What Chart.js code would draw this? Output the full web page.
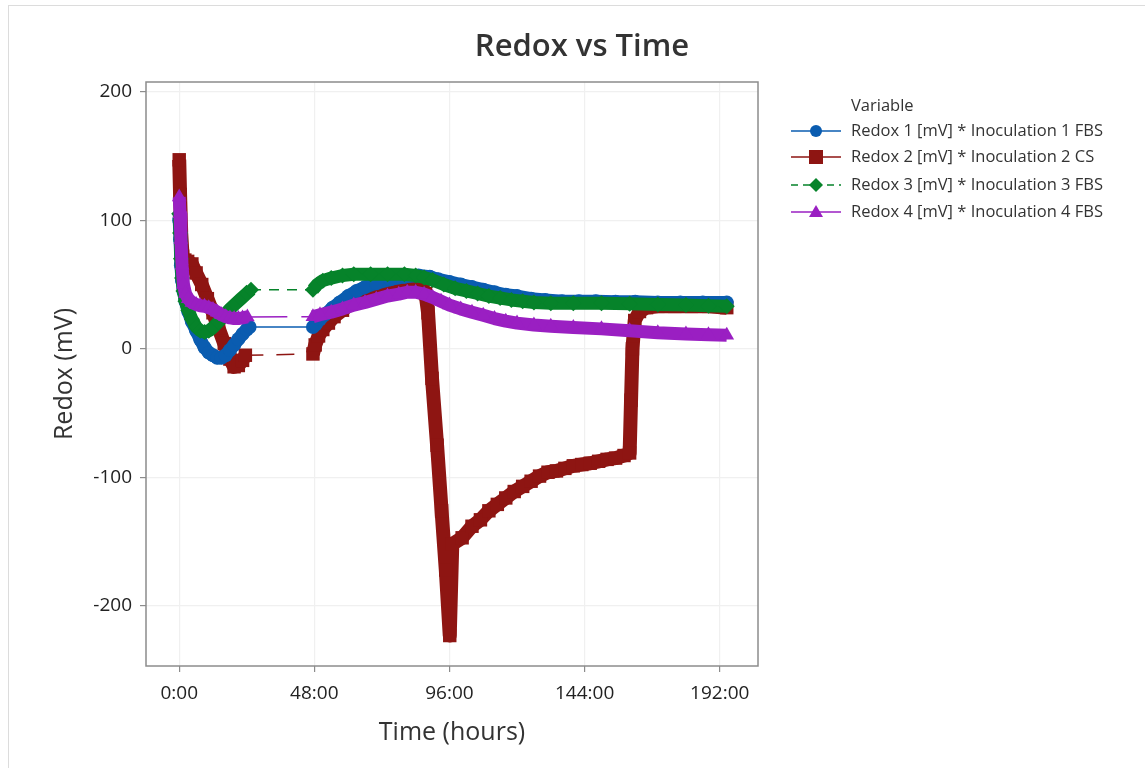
<!DOCTYPE html>
<html lang="en">
<head>
<meta charset="UTF-8">
<title>Redox vs Time</title>
<style>
    body { margin: 0; background: #fff; overflow: hidden; }
    .frame { position: absolute; left: 8px; top: 5px; width: 1200px; height: 800px; border: 1px solid #dcdcdc; }
    .chart-box { position: absolute; left: 0; top: 0; width: 1145px; height: 768px; }
</style>
</head>
<body>
<div class="frame"></div>
<div class="chart-box"><canvas id="redoxChart" width="1145" height="768"></canvas></div>
<script src="https://cdn.jsdelivr.net/npm/chart.js"></script>
<script>
    const chartTitle = 'Redox vs Time';
    const legendTitle = 'Variable';
    const seriesLabels = [
        'Redox 1 [mV] * Inoculation 1 FBS',
        'Redox 2 [mV] * Inoculation 2 CS',
        'Redox 3 [mV] * Inoculation 3 FBS',
        'Redox 4 [mV] * Inoculation 4 FBS'
    ];
    const xTickValues = [0, 48, 96, 144, 192];
    const yTickValues = [-200, -100, 0, 100, 200];

    // time in hours, redox in mV
    const redox1Hours = [0, 0.3, 0.6, 1, 1.5, 2.2, 3.2, 4.5, 6, 7.5, 9, 10.5, 12, 13.5, 15, 16.5, 18, 19.5, 21, 22.5, 24, 25,
        47.5, 48.5, 50, 52, 54.5, 57, 60, 63, 66, 70, 75, 80, 85, 89, 92, 96, 100, 104, 108, 112, 116, 120, 125, 130, 136, 142, 148, 155, 162, 170, 178, 186, 194.5];
    const redox1Values = [100, 85, 65, 53, 45, 37, 29, 21, 14, 7, 1, -3, -5, -7, -7, -5, -1, 3, 7.5, 11.5, 15, 17,
        17, 19, 23, 27, 32, 36, 41, 45, 48, 51, 54, 56, 57, 56, 54, 52, 50, 48, 46, 44, 42, 41, 39, 38, 37, 37, 37, 36.5, 36.5, 36, 36, 36, 36];

    const redox2Hours = [0, 0.3, 0.7, 1.2, 2, 3, 4.5, 6, 8, 10, 12, 14, 16, 18, 19.5, 21, 22.5, 23.5,
        47.5, 48.3, 49.5, 51, 53, 55, 58, 61, 64, 67, 70, 74, 78, 82, 85, 86.5, 87.5, 88.4, 89.8, 91.6, 93.2, 94.7, 96.1, 97, 100.5,
        104, 107, 110, 113, 116, 119, 122, 125, 128, 131, 134, 137, 140, 143, 146, 149, 152, 155, 158, 160,
        160.5, 161, 161.8, 163.5, 166, 170, 176, 182, 188, 194.5];
    const redox2Values = [147, 120, 90, 72, 69, 68, 66, 59, 50, 39, 28, 16, 4, -8, -14, -13, -9, -5,
        -4, 3, 10, 15, 20, 25, 30, 35, 39, 42, 45, 48, 50, 50, 49, 47, 43, 28, -23, -75, -126, -172, -223, -152, -147,
        -138, -133, -126, -121, -116, -111, -107, -103, -99, -96, -95, -93, -91, -90, -89, -87.5, -86, -85, -83, -81,
        -40, 0, 22, 29, 32, 33, 33, 33, 33, 32];

    const redox3Hours = [0, 0.3, 0.6, 1, 1.5, 2.2, 3.2, 4.5, 6, 7.5, 9, 10.5, 12, 14, 16, 18, 20, 22, 24, 25.5,
        47.5, 49, 51, 54, 58, 62, 68, 74, 80, 84, 87, 90, 94, 98, 102, 106, 110, 114, 118, 122, 126, 132, 140, 150, 160, 170, 180, 188, 194.5];
    const redox3Values = [105, 90, 70, 55, 45, 37, 30, 23, 17, 14, 13, 14, 16.5, 21, 26, 31, 35, 39, 43, 46,
        46, 50, 53, 55, 57, 58, 58, 58, 58, 57, 55.5, 53.5, 50, 47, 45, 43, 41, 39.5, 38, 37, 36, 35.5, 35.5, 35.5, 35, 34.5, 34, 33.5, 33];

    const redox4Hours = [0, 0.3, 0.6, 1, 1.5, 2.2, 3.2, 4.5, 6, 7.5, 9, 10.5, 12, 13.5, 15, 16.5, 18, 19.5, 21, 22.5, 24.2,
        47.5, 50, 54, 58, 62, 66, 70, 74, 78, 81, 84, 87, 90, 93, 96, 100, 104, 108, 112, 116, 120, 126, 132, 140, 150, 160, 170, 180, 188, 194.5];
    const redox4Values = [118, 105, 85, 65, 50, 43, 39, 36, 34.5, 33.5, 33, 32, 30.5, 28.5, 26.5, 25, 24, 23.5, 23.5, 24, 24.8,
        25, 26.5, 28.5, 31, 34, 36, 38.5, 41, 42.5, 44, 44, 42.5, 40, 37, 34, 31, 28.5, 26, 23.5, 21.5, 20, 18.5, 17.5, 16.5, 15.5, 14, 12.5, 11.5, 11, 10.5];

    const seriesColors = ['#0a5cb0', '#8e1512', '#06832a', '#9a1fc2'];
    const seriesMarkers = ['circle', 'rect', 'rectRot', 'triangle'];
    const markerRadius = [7, 9.5, 8, 8.5];
    const lineWidths = [13, 14, 13, 13];
    const gapDashes = [[], [18, 13], [10, 8], [40, 14]];

    const toPoints = (hours, values) => hours.map((h, i) => ({ x: h, y: values[i] }));
    const isGap = ctx => ctx.p1.parsed.x - ctx.p0.parsed.x > 10;

    function makeDataset(i, hours, values, order) {
        return {
            label: seriesLabels[i],
            data: toPoints(hours, values),
            borderColor: seriesColors[i],
            backgroundColor: seriesColors[i],
            borderWidth: lineWidths[i],
            borderJoinStyle: 'round',
            pointStyle: seriesMarkers[i],
            pointRadius: markerRadius[i],
            pointBorderWidth: 0,
            pointBackgroundColor: seriesColors[i],
            tension: 0,
            order: order,
            segment: {
                borderWidth: ctx => isGap(ctx) ? 1.5 : undefined,
                borderDash: ctx => isGap(ctx) ? gapDashes[i] : undefined
            }
        };
    }

    function drawMarker(ctx, style, x, y, r) {
        ctx.beginPath();
        if (style === 'circle') {
            ctx.arc(x, y, r, 0, Math.PI * 2);
        } else if (style === 'rect') {
            ctx.rect(x - r, y - r, 2 * r, 2 * r);
        } else if (style === 'rectRot') {
            ctx.moveTo(x, y - r); ctx.lineTo(x + r, y); ctx.lineTo(x, y + r); ctx.lineTo(x - r, y);
        } else {
            ctx.moveTo(x, y - r); ctx.lineTo(x + r, y + r * 0.7); ctx.lineTo(x - r, y + r * 0.7);
        }
        ctx.closePath();
        ctx.fill();
    }

    const decorations = {
        id: 'decorations',
        afterDraw(chart) {
            const { ctx, chartArea: a } = chart;
            ctx.save();
            ctx.strokeStyle = '#8c8c8c';
            ctx.lineWidth = 1.5;
            ctx.strokeRect(a.left, a.top, a.right - a.left, a.bottom - a.top);

            ctx.fillStyle = '#333';
            ctx.font = '600 31px "Open Sans"';
            ctx.textAlign = 'center';
            ctx.textBaseline = 'middle';
            ctx.fillText(chartTitle, 582, 47);

            // legend
            ctx.font = '16.5px "Open Sans"';
            ctx.textAlign = 'left';
            ctx.fillStyle = '#333';
            ctx.fillText(legendTitle, 851, 106);
            const rows = [131, 157, 185, 212];
            const legendSizes = [6, 7, 7, 7];
            seriesLabels.forEach((label, i) => {
                const y = rows[i];
                ctx.strokeStyle = seriesColors[i];
                ctx.lineWidth = 1.5;
                ctx.setLineDash(i === 2 ? [7, 5] : []);
                ctx.beginPath();
                ctx.moveTo(791, y); ctx.lineTo(841, y);
                ctx.stroke();
                ctx.setLineDash([]);
                ctx.fillStyle = seriesColors[i];
                drawMarker(ctx, seriesMarkers[i], 816, y, legendSizes[i]);
                ctx.fillStyle = '#333';
                ctx.fillText(label, 851, y);
            });
            ctx.restore();
        }
    };

    new Chart(document.getElementById('redoxChart'), {
        type: 'line',
        data: {
            datasets: [
                makeDataset(0, redox1Hours, redox1Values, 3),
                makeDataset(1, redox2Hours, redox2Values, 4),
                makeDataset(2, redox3Hours, redox3Values, 2),
                makeDataset(3, redox4Hours, redox4Values, 1)
            ]
        },
        options: {
            responsive: false,
            animation: false,
            devicePixelRatio: 1,
            layout: { padding: { left: 0, right: 387, top: 82, bottom: 0 } },
            plugins: {
                legend: { display: false },
                title: { display: false },
                tooltip: { enabled: false }
            },
            scales: {
                x: {
                    type: 'linear',
                    min: -11.8,
                    max: 205.6,
                    afterBuildTicks: scale => { scale.ticks = xTickValues.map(v => ({ value: v })); },
                    afterFit: scale => { scale.height = 102; },
                    grid: { color: '#f0f0f0', lineWidth: 1.2, tickColor: '#8c8c8c', tickLength: 6 },
                    border: { display: false },
                    ticks: {
                        padding: 10,
                        color: '#222',
                        font: { family: '"Open Sans"', size: 19 },
                        callback: v => v + ':00'
                    },
                    title: {
                        display: true,
                        text: 'Time (hours)',
                        color: '#333',
                        font: { family: '"Open Sans"', size: 25 },
                        padding: { top: 0, bottom: 20 }
                    }
                },
                y: {
                    min: -246.7,
                    max: 207.5,
                    afterBuildTicks: scale => { scale.ticks = yTickValues.map(v => ({ value: v })); },
                    afterFit: scale => { scale.width = 146; },
                    grid: { color: '#f0f0f0', lineWidth: 1.2, tickColor: '#8c8c8c', tickLength: 6 },
                    border: { display: false },
                    ticks: {
                        padding: 8,
                        color: '#222',
                        font: { family: '"Open Sans"', size: 19 }
                    },
                    title: {
                        display: true,
                        text: 'Redox (mV)',
                        color: '#333',
                        font: { family: '"Open Sans"', size: 25 },
                        padding: { top: 50, bottom: 0 }
                    }
                }
            }
        },
        plugins: [decorations]
    });
</script>
</body>
</html>
